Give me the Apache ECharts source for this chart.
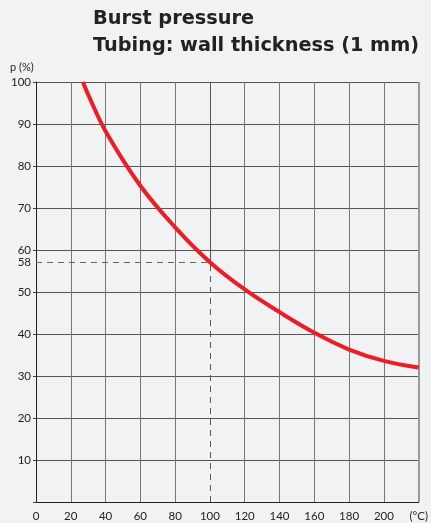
<!DOCTYPE html>
<html><head><meta charset="utf-8">
<script src="https://cdn.jsdelivr.net/npm/echarts@6/dist/echarts.min.js"></script>
<style>html,body{margin:0;padding:0;background:#f1f2f4;}#c{width:431px;height:523px;}</style>
</head><body><div id="c"></div>
<script>
const temps = [27, 30, 40, 60, 80, 100, 120, 140, 160, 180, 200, 220];
const pressure = [100, 97, 88.3, 75.3, 65.4, 57.1, 50.6, 45.2, 40.3, 36.3, 33.6, 32];
const xTicks = [0, 20, 40, 60, 80, 100, 120, 140, 160, 180, 200, 220];
const refX = 100;
const refY = 57.1;
const refLabel = '58';
const xUnitLabel = '(°C)';
const yName = 'p (%)';
const titleText = 'Burst pressure\nTubing: wall thickness (1 mm)';

const labelFont = {fontFamily: 'Lato', fontSize: 11.5, color: '#222'};
const chart = echarts.init(document.getElementById('c'));

const gridLines = xTicks.filter(v => v !== 0 && v !== refX).map(v => ({
  xAxis: v,
  lineStyle: v === 220 ? {color: '#999', width: 2, type: 'solid'} : {color: '#777', width: 1, type: 'solid'}
}));

chart.setOption({
  backgroundColor: '#f1f2f4',
  animation: false,
  title: [
    {text: titleText, left: 93, top: 5, padding: 0,
     textStyle: {fontFamily: 'DejaVu Sans', fontWeight: 'bold', fontSize: 19.3, color: '#222', lineHeight: 27}},
    {text: yName, left: 10, top: 62, padding: 0, textStyle: {fontFamily: 'Lato', fontSize: 11, fontWeight: 'normal', color: '#222'}}
  ],
  grid: {left: 36, right: 8, top: 82, bottom: 21, containLabel: false},
  xAxis: {
    type: 'value', min: 0, max: 220, interval: 20,
    axisLine: {show: true, lineStyle: {color: '#222', width: 1}},
    axisTick: {show: false},
    splitLine: {show: false},
    axisLabel: Object.assign({margin: 8, showMaxLabel: true, showMinLabel: true,
      formatter: v => v === 220 ? xUnitLabel : String(v)}, labelFont)
  },
  yAxis: {
    type: 'value', min: 0, max: 100, interval: 10,
    axisLine: {show: true, lineStyle: {color: '#222', width: 1}},
    axisTick: {show: true, length: 3, lineStyle: {color: '#444'}},
    splitLine: {show: true, lineStyle: {color: '#555', width: 1}},
    axisLabel: Object.assign({margin: 5, formatter: v => v === 0 ? '' : String(v)}, labelFont)
  },
  series: [
    {
      type: 'line', silent: true, z: 1,
      data: [],
      markLine: {
        silent: true, symbol: 'none', animation: false,
        label: {show: false},
        data: gridLines.concat([
          [{coord: [refX, refY], lineStyle: {color: '#555', width: 1, type: 'solid'}}, {coord: [refX, 100]}],
          [{coord: [refX, 0], lineStyle: {color: '#555', width: 1, type: [6, 5]}}, {coord: [refX, refY]}],
          [{coord: [0, refY], lineStyle: {color: '#666', width: 1, type: [6, 5]},
            label: {show: true, position: 'start', formatter: refLabel, distance: 5,
                    fontFamily: 'Lato', fontSize: 11.5, color: '#222'}}, {coord: [refX, refY]}]
        ])
      }
    },
    {
      type: 'line', z: 5, smooth: 0.4, symbol: 'none',
      data: temps.map((t, i) => [t, pressure[i]]),
      lineStyle: {color: '#ee1c25', width: 4}
    }
  ]
});
</script></body></html>
